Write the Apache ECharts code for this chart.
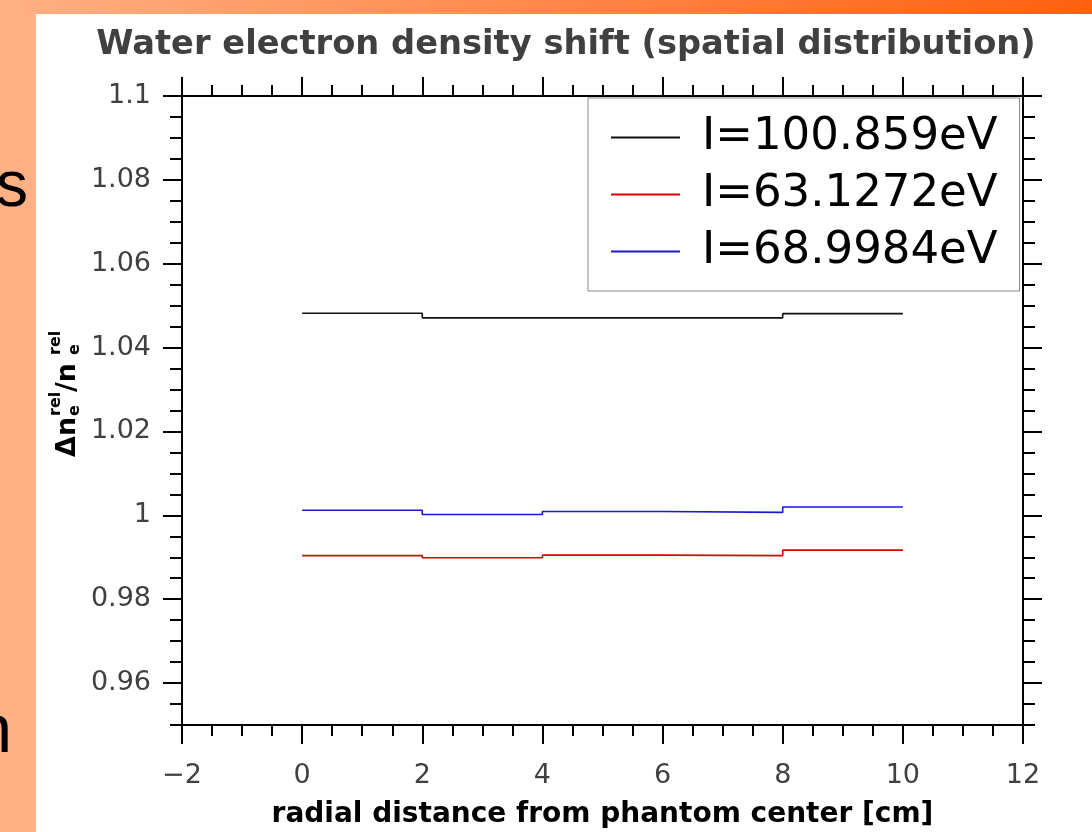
<!DOCTYPE html>
<html>
<head>
<meta charset="utf-8">
<script src="https://cdn.jsdelivr.net/npm/echarts@6.0.0/dist/echarts.min.js"></script>
<style>
  html, body { margin: 0; padding: 0; background: #fff; }
  #chart { width: 1092px; height: 832px; }
</style>
</head>
<body>
<div id="chart"></div>
<script>
// bin edges along the radius (cm) and the value in each bin
const xEdges = [0, 2, 4, 6, 8, 10];
const shiftI100 = [1.0482, 1.0471, 1.0471, 1.0471, 1.0481];
const shiftI63 = [0.9904, 0.9899, 0.9905, 0.9904, 0.9917];
const shiftI69 = [1.0012, 1.0002, 1.0009, 1.0007, 1.0020];
const seriesNames = ['I=100.859eV', 'I=63.1272eV', 'I=68.9984eV'];
const seriesColors = ['#111111', '#e00000', '#1a1acc'];
const yMajorTicks = [0.96, 0.98, 1, 1.02, 1.04, 1.06, 1.08, 1.1];

const font = 'DejaVu Sans';
const axisColor = '#000';
const labelColor = '#404040';

function stepData(vals) {
    return xEdges.map((x, i) => [x, vals[Math.min(i, vals.length - 1)]]);
}

const chart = echarts.init(document.getElementById('chart'));

function xAxisCfg(pos, showLabels) {
    return {
        type: 'value',
        position: pos,
        min: -2,
        max: 12,
        interval: 2,
        axisLine: { show: true, onZero: false, lineStyle: { color: axisColor, width: 2 } },
        axisTick: { show: true, inside: false, length: 19, lineStyle: { color: axisColor, width: 2 } },
        minorTick: { show: true, splitNumber: 4, length: 11, lineStyle: { color: axisColor, width: 2 } },
        splitLine: { show: false },
        minorSplitLine: { show: false },
        axisLabel: {
            show: showLabels,
            margin: 37,
            color: labelColor,
            fontFamily: font,
            fontSize: 27,
            formatter: v => String(v).replace('-', '\u2212')
        }
    };
}

function yMajorCfg(pos, showLabels) {
    return {
        type: 'value',
        position: pos,
        min: 0.95,
        max: 1.1,
        axisLine: { show: true, onZero: false, lineStyle: { color: axisColor, width: 2 } },
        axisTick: { show: true, inside: false, length: 19, customValues: yMajorTicks, lineStyle: { color: axisColor, width: 2 } },
        splitLine: { show: false },
        axisLabel: {
            show: showLabels,
            customValues: yMajorTicks,
            margin: 31,
            color: labelColor,
            fontFamily: font,
            fontSize: 27
        }
    };
}

function yMinorCfg(pos) {
    return {
        type: 'value',
        position: pos,
        min: 0.95,
        max: 1.1,
        interval: 0.005,
        axisLine: { show: false, onZero: false },
        axisTick: { show: true, inside: false, length: 12, lineStyle: { color: axisColor, width: 2 } },
        splitLine: { show: false },
        axisLabel: { show: false }
    };
}

const xAxes = [xAxisCfg('bottom', true), xAxisCfg('top', false)];
xAxes[0].name = 'radial distance from phantom center [cm]';
xAxes[0].nameLocation = 'middle';
xAxes[0].nameGap = 76;
xAxes[0].nameTextStyle = { fontFamily: font, fontWeight: 'bold', fontSize: 28, color: '#000' };

const subStyle = { fontFamily: font, fontWeight: 'bold', fontSize: 16, fill: '#000', verticalAlign: 'middle' };
const mainStyle = { fontFamily: font, fontWeight: 'bold', fontSize: 27, fill: '#000', verticalAlign: 'middle' };

chart.setOption({
    animation: false,
    backgroundColor: '#fff',
    title: {
        text: 'Water electron density shift (spatial distribution)',
        left: 561,
        top: 23,
        textAlign: 'center',
        textStyle: { fontFamily: font, fontWeight: 'bold', fontSize: 33.7, color: labelColor }
    },
    grid: { left: 182, right: 69, top: 96, bottom: 107, outerBoundsMode: 'none' },
    legend: {
        orient: 'vertical',
        left: 588,
        top: 98,
        padding: [11, 22, 11, 23],
        itemGap: 0,
        itemWidth: 69,
        itemHeight: 2,
        icon: 'rect',
        backgroundColor: '#fff',
        borderColor: '#888',
        borderWidth: 1,
        borderRadius: 0,
        textStyle: { fontFamily: font, fontSize: 45, color: '#000', lineHeight: 57, padding: [0, 0, 0, 17] },
        data: seriesNames
    },
    xAxis: xAxes,
    yAxis: [yMajorCfg('left', true), yMinorCfg('left'), yMajorCfg('right', false), yMinorCfg('right')],
    series: [shiftI100, shiftI63, shiftI69].map((vals, i) => ({
        name: seriesNames[i],
        type: 'line',
        step: 'end',
        symbol: 'none',
        xAxisIndex: 0,
        yAxisIndex: 0,
        color: seriesColors[i],
        lineStyle: { color: seriesColors[i], width: 1.6 },
        data: stepData(vals)
    })),
    graphic: [
        { type: 'rect', left: 0, top: 0, shape: { width: 36, height: 832 }, style: { fill: '#ffb084' }, z: 100 },
        {
            type: 'rect', left: 0, top: 0, shape: { width: 1092, height: 14 }, z: 100,
            style: {
                fill: new echarts.graphic.LinearGradient(0, 0, 1, 0, [
                    { offset: 0, color: '#ffb084' },
                    { offset: 1, color: '#ff6010' }
                ])
            }
        },
        { type: 'text', x: 28, y: 220, z: 101, style: { text: 's', fontFamily: 'Liberation Sans', fontSize: 64, fill: '#000', align: 'right', verticalAlign: 'bottom' } },
        { type: 'text', x: 12, y: 767, z: 101, style: { text: 'n', fontFamily: 'Liberation Sans', fontSize: 68, fill: '#000', align: 'right', verticalAlign: 'bottom' } },
        {
            type: 'group',
            x: 66,
            y: 387,
            rotation: Math.PI / 2,
            z: 101,
            children: [
                { type: 'text', x: -70, y: 2, style: Object.assign({ text: '\u0394n' }, mainStyle) },
                { type: 'text', x: -29, y: -10, style: Object.assign({ text: 'rel' }, subStyle) },
                { type: 'text', x: -29, y: 9, style: Object.assign({ text: 'e' }, subStyle) },
                { type: 'text', x: -5, y: 2, style: Object.assign({ text: '/n' }, mainStyle) },
                { type: 'text', x: 32, y: -10, style: Object.assign({ text: 'rel' }, subStyle) },
                { type: 'text', x: 32, y: 9, style: Object.assign({ text: 'e' }, subStyle) }
            ]
        }
    ]
});
</script>
</body>
</html>
